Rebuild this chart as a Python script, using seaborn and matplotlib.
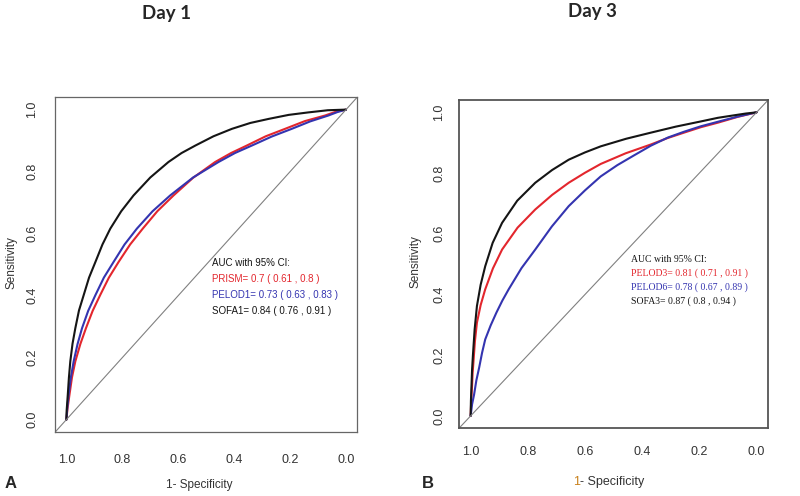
import matplotlib
matplotlib.use("Agg")
import matplotlib.pyplot as plt
import seaborn as sns

sns.set_style("white")
plt.rcParams["font.family"] = ["Liberation Sans", "DejaVu Sans"]

# ---- Day 1 (panel A) ----  specificity / sensitivity
sofa1_spec = [1.0, 0.999, 0.995, 0.991, 0.986, 0.978, 0.968, 0.955, 0.938, 0.919, 0.896, 0.871, 0.843,
              0.804, 0.760, 0.700, 0.635, 0.588, 0.539, 0.474, 0.408, 0.342, 0.277, 0.205, 0.135, 0.065, 0.0]
sofa1_sens = [0.0, 0.03, 0.08, 0.135, 0.188, 0.245, 0.295, 0.352, 0.402, 0.458, 0.509, 0.565, 0.616,
              0.672, 0.723, 0.781, 0.831, 0.860, 0.884, 0.914, 0.938, 0.957, 0.970, 0.983, 0.991, 0.998, 1.0]
pelod1_spec = [1.0, 0.997, 0.992, 0.984, 0.974, 0.960, 0.944, 0.922, 0.896, 0.866, 0.831, 0.792, 0.748,
               0.692, 0.629, 0.547, 0.456, 0.397, 0.337, 0.266, 0.194, 0.128, 0.063, 0.031, 0.0]
pelod1_sens = [0.0, 0.035, 0.08, 0.136, 0.188, 0.244, 0.295, 0.351, 0.402, 0.458, 0.509, 0.565, 0.616,
               0.672, 0.723, 0.781, 0.831, 0.860, 0.884, 0.913, 0.938, 0.962, 0.981, 0.992, 1.0]
prism_spec = [1.0, 0.996, 0.989, 0.980, 0.968, 0.950, 0.930, 0.906, 0.879, 0.848, 0.813, 0.772, 0.727,
              0.675, 0.617, 0.547, 0.468, 0.411, 0.355, 0.287, 0.218, 0.147, 0.075, 0.037, 0.0]
prism_sens = [0.0, 0.035, 0.08, 0.136, 0.188, 0.244, 0.295, 0.351, 0.402, 0.458, 0.509, 0.565, 0.616,
              0.672, 0.723, 0.780, 0.831, 0.860, 0.884, 0.914, 0.938, 0.963, 0.981, 0.993, 1.0]

# ---- Day 3 (panel B) ----
sofa3_spec = [1.0, 0.999, 0.997, 0.995, 0.992, 0.986, 0.978, 0.965, 0.949, 0.923, 0.890, 0.837, 0.774,
              0.715, 0.657, 0.600, 0.545, 0.456, 0.370, 0.282, 0.195, 0.135, 0.08, 0.038, 0.0]
sofa3_sens = [0.0, 0.05, 0.10, 0.152, 0.20, 0.285, 0.362, 0.432, 0.493, 0.570, 0.636, 0.709, 0.768,
              0.810, 0.844, 0.868, 0.888, 0.913, 0.933, 0.953, 0.970, 0.982, 0.99, 0.996, 1.0]
pelod3_spec = [1.0, 0.998, 0.995, 0.993, 0.990, 0.985, 0.978, 0.965, 0.949, 0.922, 0.890, 0.836, 0.774,
               0.715, 0.657, 0.600, 0.545, 0.458, 0.370, 0.312, 0.254, 0.195, 0.135, 0.066, 0.0]
pelod3_sens = [0.0, 0.05, 0.10, 0.142, 0.18, 0.246, 0.307, 0.365, 0.417, 0.486, 0.548, 0.620, 0.680,
               0.728, 0.768, 0.801, 0.830, 0.865, 0.894, 0.915, 0.933, 0.951, 0.966, 0.985, 1.0]
pelod6_spec = [1.0, 0.995, 0.988, 0.980, 0.970, 0.960, 0.949, 0.930, 0.910, 0.889, 0.867, 0.822, 0.774,
               0.716, 0.657, 0.600, 0.545, 0.487, 0.429, 0.370, 0.310, 0.254, 0.195, 0.135, 0.066, 0.0]
pelod6_sens = [0.0, 0.038, 0.07, 0.117, 0.16, 0.208, 0.252, 0.298, 0.340, 0.380, 0.417, 0.487, 0.548,
               0.624, 0.691, 0.743, 0.789, 0.826, 0.858, 0.890, 0.917, 0.936, 0.954, 0.969, 0.986, 1.0]

ticks = [1.0, 0.8, 0.6, 0.4, 0.2, 0.0]
tick_labels = ["1.0", "0.8", "0.6", "0.4", "0.2", "0.0"]

legend_a = ["AUC with 95% CI:", "PRISM= 0.7 ( 0.61 , 0.8 )",
            "PELOD1= 0.73 ( 0.63 , 0.83 )", "SOFA1= 0.84 ( 0.76 , 0.91 )"]
legend_b = ["AUC with 95% CI:", "PELOD3= 0.81 ( 0.71 , 0.91 )",
            "PELOD6= 0.78 ( 0.67 , 0.89 )", "SOFA3= 0.87 ( 0.8 , 0.94 )"]

RED = "#e3262d"
BLUE = "#3434b0"
BLACK = "#151515"
legend_cols = [BLACK, RED, BLUE, BLACK]

fig = plt.figure(figsize=(8, 4.96), dpi=100)
axA = fig.add_axes([0.069, 0.129, 0.3775, 0.675])
axB = fig.add_axes([0.574, 0.137, 0.386, 0.661])


def ftxt(x, y, s, **kw):
    fig.text(x / 800, 1 - y / 496, s, **kw)


def draw_roc(ax, curves):
    for spec, sens, col in curves:
        sns.lineplot(x=spec, y=sens, sort=False, estimator=None, color=col,
                     lw=1.5, solid_joinstyle="round", ax=ax)
    ax.axline((1, 0), (0, 1), color="#808080", lw=0.8)
    ax.set_xlim(1.04, -0.04)
    ax.set_ylim(-0.04, 1.04)
    ax.set_xticks(ticks)
    ax.set_yticks(ticks)
    ax.set_xlabel("")
    ax.set_ylabel("")


draw_roc(axA, [(prism_spec, prism_sens, RED),
               (pelod1_spec, pelod1_sens, BLUE),
               (sofa1_spec, sofa1_sens, BLACK)])
draw_roc(axB, [(pelod3_spec, pelod3_sens, RED),
               (pelod6_spec, pelod6_sens, BLUE),
               (sofa3_spec, sofa3_sens, BLACK)])

# panel A axes (R style)
axA.set_xticklabels(tick_labels, fontsize=9, color="#333333")
axA.set_yticklabels(tick_labels, fontsize=9, color="#333333", rotation=90, va="center")
axA.tick_params(axis="x", direction="out", length=5, width=0.8, color="#555555", pad=11)
axA.tick_params(axis="y", direction="out", length=5, width=0.8, color="#555555", pad=7)
for sp in axA.spines.values():
    sp.set_color("#666666")
    sp.set_linewidth(0.9)

# panel B axes (no tick marks, narrow font)
narrow = ["Liberation Sans Narrow", "Liberation Sans", "DejaVu Sans"]
axB.set_xticklabels(tick_labels, fontsize=9, color="#333333", family=narrow)
axB.set_yticklabels(tick_labels, fontsize=9, color="#333333", rotation=90,
                    va="center", family=narrow)
axB.tick_params(axis="x", length=0, pad=13)
axB.tick_params(axis="y", length=0, pad=10)
for sp in axB.spines.values():
    sp.set_color("#555555")
    sp.set_linewidth(1.3)

# AUC annotations
for i, (s, c) in enumerate(zip(legend_a, legend_cols)):
    axA.text(0.479, 0.505 - i * 0.052, s, color=c, fontsize=7, ha="left", va="center")
for i, (s, c) in enumerate(zip(legend_b, legend_cols)):
    axB.text(0.44, 0.515 - i * 0.046, s, color=c, fontsize=7, ha="left", va="center",
             family=["Liberation Serif", "DejaVu Serif"])

# titles and labels
ftxt(167, 13, "Day 1", fontsize=13.5, fontweight="bold", ha="center", va="center",
     family=["Lato", "DejaVu Sans"])
ftxt(592, 12, "Day 3", fontsize=13.5, fontweight="bold", ha="center", va="center",
     family=["Lato", "DejaVu Sans"])
ftxt(199, 485, "1- Specificity", fontsize=8.5, color="#333333", ha="center", va="center")
ftxt(12, 263, "Sensitivity", fontsize=8.5, color="#333333", ha="center", va="center",
     rotation=90)
ftxt(573, 482, "1", fontsize=9, color="#c8801a", ha="left", va="center", family=narrow)
ftxt(580, 482, "- Specificity", fontsize=9, color="#333333", ha="left", va="center",
     family=narrow)
ftxt(415, 262, "Sensitivity", fontsize=8.5, color="#333333", ha="center", va="center",
     rotation=90)
ftxt(11, 484, "A", fontsize=12, fontweight="bold", ha="center", va="center")
ftxt(428, 483, "B", fontsize=12, fontweight="bold", ha="center", va="center")

fig.savefig("out.png", dpi=100)
